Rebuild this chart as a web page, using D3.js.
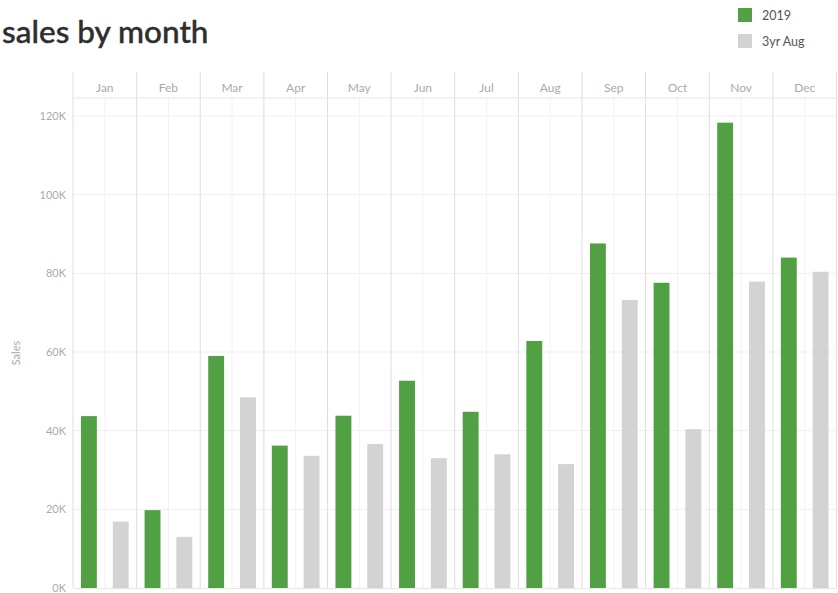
<!DOCTYPE html>
<html>
<head>
<meta charset="utf-8">
<script src="https://cdn.jsdelivr.net/npm/d3@7"></script>
<style>
  html, body { margin: 0; padding: 0; background: #fff; }
  svg { display: block; }
  text { font-family: Lato, "Open Sans", "Noto Sans", sans-serif; }
</style>
</head>
<body>
<svg id="chart" width="838" height="593"></svg>
<script>
const months = ["Jan","Feb","Mar","Apr","May","Jun","Jul","Aug","Sep","Oct","Nov","Dec"];
const seriesNames = ["2019","3yr Aug"];
const sales2019 = [43700, 19800, 59000, 36200, 43800, 52700, 44800, 62800, 87600, 77600, 118300, 84000];
const sales3yrAvg = [16900, 13000, 48500, 33600, 36600, 33000, 34000, 31500, 73200, 40400, 77900, 80400];
const yTicks = [0, 20000, 40000, 60000, 80000, 100000, 120000];
const colors = ["#52a044", "#d3d3d3"];

const svg = d3.select("#chart");
const left = 73, right = 836.5, headerTop = 72, headerBottom = 98, bottom = 588;

const x = d3.scaleBand().domain(months).range([left, right]).paddingInner(0).paddingOuter(0);
const xs = d3.scaleBand().domain(seriesNames).range([0, x.bandwidth()]).paddingInner(0.5).paddingOuter(0.25);
const y = d3.scaleLinear().domain([0, 120000]).range([bottom, 116]);
const color = d3.scaleOrdinal().domain(seriesNames).range(colors);

// Title
svg.append("text").attr("x", 2).attr("y", 43)
  .attr("font-size", 31.5).attr("fill", "#2e2e2e").attr("font-weight", 500)
  .attr("stroke", "#2e2e2e").attr("stroke-width", 0.4)
  .text("sales by month");

// Legend
const legend = svg.append("g");
seriesNames.forEach((s, i) => {
  legend.append("rect").attr("x", 738).attr("y", 8 + i * 26).attr("width", 14).attr("height", 14).attr("fill", color(s));
  legend.append("text").attr("x", 762).attr("y", 20 + i * 26).attr("font-size", 12.5).attr("fill", "#555").text(s);
});

// Horizontal gridlines
svg.append("g").selectAll("line").data(yTicks.filter(d => d > 0)).join("line")
  .attr("x1", left).attr("x2", right).attr("y1", d => y(d)).attr("y2", d => y(d))
  .attr("stroke", "#efefef").attr("stroke-width", 1);

// Minor center lines in each month column
svg.append("g").selectAll("line").data(months).join("line")
  .attr("x1", d => x(d) + x.bandwidth() / 2).attr("x2", d => x(d) + x.bandwidth() / 2)
  .attr("y1", headerBottom).attr("y2", bottom)
  .attr("stroke", "#f2f2f2").attr("stroke-width", 1);

// Column separators
const seps = months.map(m => x(m)).concat([right]);
svg.append("g").selectAll("line").data(seps).join("line")
  .attr("x1", d => d).attr("x2", d => d).attr("y1", headerTop).attr("y2", bottom)
  .attr("stroke", "#dedede").attr("stroke-width", 1);

// Header line
svg.append("line").attr("x1", left).attr("x2", right).attr("y1", headerBottom).attr("y2", headerBottom)
  .attr("stroke", "#e6e6e6");

// Header month labels
svg.append("g").selectAll("text").data(months).join("text")
  .attr("x", d => x(d) + x.bandwidth() / 2).attr("y", 92)
  .attr("text-anchor", "middle").attr("font-size", 12).attr("fill", "#aaa")
  .text(d => d);

// Bars
const data = months.map((m, i) => ({ month: m, values: [
  { key: seriesNames[0], value: sales2019[i] },
  { key: seriesNames[1], value: sales3yrAvg[i] }
]}));
const groups = svg.append("g").selectAll("g").data(data).join("g")
  .attr("transform", d => `translate(${x(d.month)},0)`);
groups.selectAll("rect").data(d => d.values).join("rect")
  .attr("x", d => xs(d.key)).attr("width", xs.bandwidth())
  .attr("y", d => y(d.value)).attr("height", d => y(0) - y(d.value))
  .attr("fill", d => color(d.key));

// Bottom line
svg.append("line").attr("x1", left).attr("x2", right).attr("y1", bottom + 0.5).attr("y2", bottom + 0.5)
  .attr("stroke", "#e6e6e6");

// Y axis
const yAxis = d3.axisLeft(y).tickValues(yTicks).tickSize(0).tickPadding(7)
  .tickFormat(d => (d / 1000) + "K");
const ya = svg.append("g").attr("transform", `translate(${left},0)`).call(yAxis);
ya.select(".domain").remove();
ya.selectAll("text").attr("font-size", 11).attr("fill", "#aaa").attr("font-family", "Lato, 'Open Sans', sans-serif");

// Y axis title
svg.append("text").attr("transform", "translate(20,353) rotate(-90)")
  .attr("text-anchor", "middle").attr("font-size", 11).attr("fill", "#aaa").text("Sales");
</script>
</body>
</html>
